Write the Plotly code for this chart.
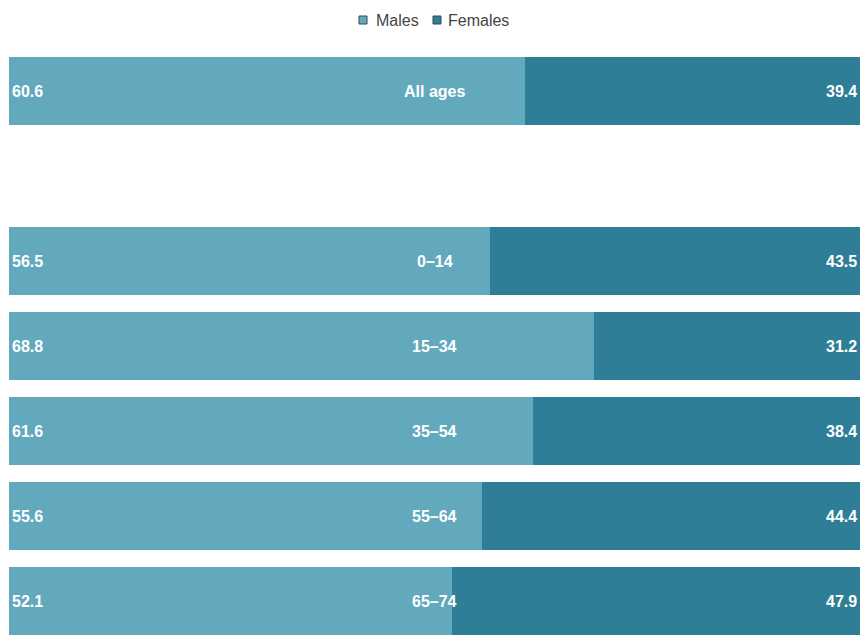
import plotly.graph_objects as go

# Share of persons by sex (%), per age group
groups = ["All ages", "", "0–14", "15–34", "35–54", "55–64", "65–74"]
males = [60.6, None, 56.5, 68.8, 61.6, 55.6, 52.1]
females = [39.4, None, 43.5, 31.2, 38.4, 44.4, 47.9]
series_names = ["Males", "Females"]

male_color = "#62a9be"
female_color = "#2e7e97"
colors = [male_color, female_color]

W, H = 862, 639
M_L, M_R, M_T, M_B = 9, 2, 48, 0
plot_w = W - M_L - M_R
plot_h = H - M_T - M_B


def px_to_paper_x(px):
    return (px - M_L) / plot_w


def px_to_paper_y(py):
    return 1 + (M_T - py) / plot_h


rows = list(range(len(groups)))
fig = go.Figure()
for name, vals, col in zip(series_names, [males, females], colors):
    fig.add_trace(go.Bar(
        y=rows, x=vals, orientation="h", name=name,
        marker=dict(color=col, line=dict(width=0)),
        width=0.8, hoverinfo="x+name", showlegend=False,
    ))

label_font = dict(family="Liberation Sans, Arial, sans-serif", size=16, color="white")
annotations = []
for r, g, m, f in zip(rows, groups, males, females):
    if m is None:
        continue
    annotations.append(dict(x=0, y=r, xref="x", yref="y", text=f"<b>{m:.1f}</b>",
                            showarrow=False, xanchor="left", xshift=1, font=label_font))
    annotations.append(dict(x=100, y=r, xref="x", yref="y", text=f"<b>{f:.1f}</b>",
                            showarrow=False, xanchor="right", xshift=-1, font=label_font))
    annotations.append(dict(x=50, y=r, xref="x", yref="y", text=f"<b>{g}</b>",
                            showarrow=False, xanchor="center", font=label_font))

# Legend row at the top: small square swatch followed by the series name
shapes = []
legend_y = px_to_paper_y(20)
swatch_px = [363, 437]
text_px = [374, 446]
for name, col, sx, tx in zip(series_names, colors, swatch_px, text_px):
    shapes.append(dict(type="rect", xref="paper", yref="paper",
                       xsizemode="pixel", ysizemode="pixel",
                       xanchor=px_to_paper_x(sx), yanchor=legend_y,
                       x0=-4, x1=4, y0=-4, y1=4,
                       fillcolor=col, line=dict(color="#3a4a55", width=1)))
    annotations.append(dict(x=px_to_paper_x(tx), y=legend_y, xref="paper", yref="paper",
                            text=name, showarrow=False, xanchor="left", yanchor="middle",
                            font=dict(family="Liberation Sans, Arial, sans-serif",
                                      size=16, color="#444444")))

fig.update_layout(
    width=W, height=H,
    margin=dict(l=M_L, r=M_R, t=M_T, b=M_B),
    barmode="stack",
    paper_bgcolor="white", plot_bgcolor="white",
    showlegend=False,
    xaxis=dict(range=[0, 100], visible=False, fixedrange=True),
    yaxis=dict(range=[6.447, -0.506], visible=False, fixedrange=True),
    annotations=annotations,
    shapes=shapes,
)
fig.write_html("out.html")
